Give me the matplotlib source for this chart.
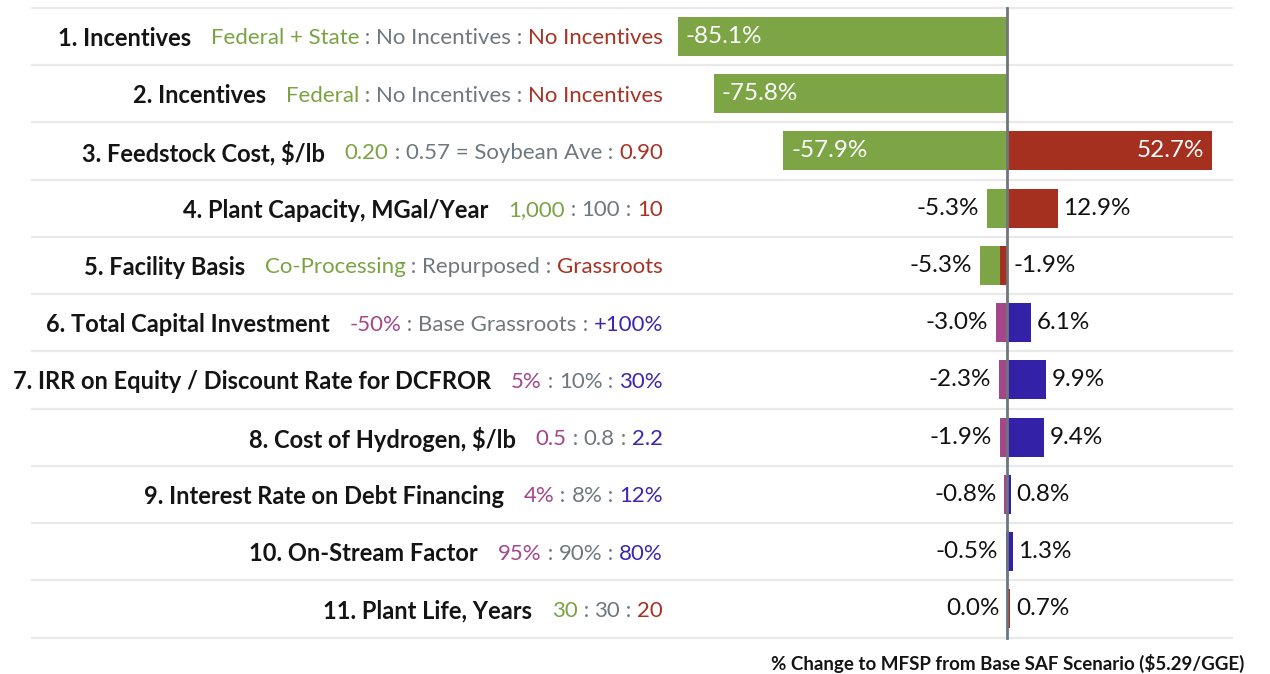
import matplotlib
matplotlib.use("Agg")
import matplotlib.pyplot as plt

# ---------------- data ----------------
names = ["1. Incentives", "2. Incentives", "3. Feedstock Cost, $/lb",
         "4. Plant Capacity, MGal/Year", "5. Facility Basis",
         "6. Total Capital Investment", "7. IRR on Equity / Discount Rate for DCFROR",
         "8. Cost of Hydrogen, $/lb", "9. Interest Rate on Debt Financing",
         "10. On-Stream Factor", "11. Plant Life, Years"]
low_labels = ["Federal + State", "Federal", "0.20", "1,000", "Co-Processing",
              "-50%", "5%", "0.5", "4%", "95%", "30"]
base_labels = ["No Incentives", "No Incentives", "0.57 = Soybean Ave", "100", "Repurposed",
               "Base Grassroots", "10%", "0.8", "8%", "90%", "30"]
high_labels = ["No Incentives", "No Incentives", "0.90", "10", "Grassroots",
               "+100%", "30%", "2.2", "12%", "80%", "20"]
low_change = [-85.1, -75.8, -57.9, -5.3, -5.3, -3.0, -2.3, -1.9, -0.8, -0.5, 0.0]
high_change = [None, None, 52.7, 12.9, -1.9, 6.1, 9.9, 9.4, 0.8, 1.3, 0.7]
scheme = ["gr", "gr", "gr", "gr", "gr", "pb", "pb", "pb", "pb", "pb", "gr"]
xlabel = "% Change to MFSP from Base SAF Scenario ($5.29/GGE)"

# ---------------- style ----------------
GREEN, RED = "#7da546", "#a53020"
PINK, BLUE = "#a4468a", "#3321a8"
GRAY_TXT = "#6e787e"
AXIS = "#6c767c"
SEP = "#e9e9e9"
colors = {"gr": (GREEN, RED), "pb": (PINK, BLUE)}
txtcolors = {"gr": ("#7aa343", "#a83224"), "pb": ("#a4468a", "#3a26b0")}

FONT = "Lato"
plt.rcParams["font.family"] = [FONT, "DejaVu Sans"]

W, H = 1270, 674
fig = plt.figure(figsize=(W / 100, H / 100), dpi=100)
ax = fig.add_axes([0, 0, 1, 1])
ax.set_axis_off()

zero_px = 1007.5
ppu = 3.876          # pixels per percent
row0, rowh = 36.5, 57.25
ax.set_xlim(-zero_px / ppu, (W - zero_px) / ppu)
ax.set_ylim((H - row0) / rowh, -row0 / rowh)

def px2x(p):
    return (p - zero_px) / ppu

n = len(names)
# separators
for k in range(n + 1):
    ax.plot([px2x(31), px2x(1233)], [k - 0.5, k - 0.5], color=SEP, lw=1.6, zorder=1,
            solid_capstyle="butt")

bar_h = 39 / rowh
pad = 8 / ppu
fs_val = 17.5
for i in range(n):
    lo, hi = low_change[i], high_change[i]
    c_lo, c_hi = colors[scheme[i]]
    lo_left = 0
    if hi is not None and hi < 0:
        lo_left = hi
    ax.barh(i, lo, left=lo_left, height=bar_h, color=c_lo, zorder=2)
    if hi is not None:
        ax.barh(i, hi, height=bar_h, color=c_hi, zorder=3)
    # low label
    s = f"{lo:.1f}%"
    if abs(lo) > 20:
        ax.text(lo + lo_left + pad, i, s, ha="left", va="center", color="white",
                fontsize=fs_val, zorder=5)
    else:
        ax.text(lo + lo_left - pad, i, s, ha="right", va="center", color="#111111",
                fontsize=fs_val, zorder=5)
    if hi is not None:
        s = f"{hi:.1f}%"
        if hi > 20:
            ax.text(hi - pad, i, s, ha="right", va="center", color="white",
                    fontsize=fs_val, zorder=5)
        else:
            ax.text(max(hi, 0) + pad * 0.7, i, s, ha="left", va="center", color="#111111",
                    fontsize=fs_val, zorder=5)

# zero line
ax.plot([0, 0], [-0.5, n - 0.5], color=AXIS, lw=2, zorder=6)

# row labels (right aligned, multi-coloured)
fig.canvas.draw()
rend = fig.canvas.get_renderer()
right_px = 663
for i in range(n):
    tc_lo, tc_hi = txtcolors[scheme[i]]
    parts = [(names[i], "#141414", "bold", 17, 0),
             (low_labels[i], tc_lo, "normal", 16, 20),
             (" : ", GRAY_TXT, "normal", 16, 0),
             (base_labels[i], GRAY_TXT, "normal", 16, 0),
             (" : ", GRAY_TXT, "normal", 16, 0),
             (high_labels[i], tc_hi, "normal", 16, 0)]
    x = right_px
    for txt, col, wt, fs, gap in reversed(parts):
        t = ax.text(px2x(x), i, txt, ha="right", va="center_baseline", color=col,
                    fontsize=fs, fontweight=wt, zorder=5)
        w = t.get_window_extent(rend).width
        x -= w + gap

ax.text(0, (663 - row0) / rowh, xlabel, ha="center", va="center",
        fontsize=13.5, fontweight="bold", color="#141414")

fig.savefig("out.png", dpi=100)
